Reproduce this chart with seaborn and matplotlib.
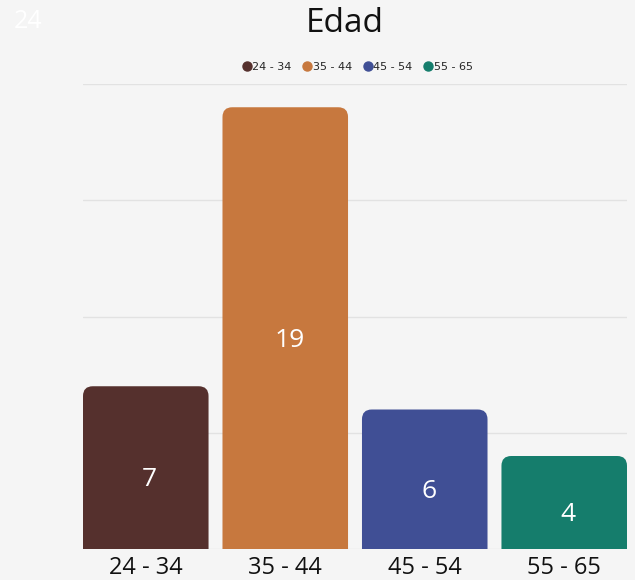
import matplotlib
matplotlib.use("Agg")
import matplotlib.pyplot as plt
from matplotlib.patches import FancyBboxPatch
from matplotlib.lines import Line2D
import seaborn as sns
import pandas as pd

# Datos del grafico
categorias = ["24 - 34", "35 - 44", "45 - 54", "55 - 65"]
valores = [7, 19, 6, 4]
colores = ["#55302d", "#c7783e", "#404f95", "#157d6c"]
titulo = "Edad"
esquina = "24"

df = pd.DataFrame({"edad": categorias, "n": valores})

sns.set_style("white")
plt.rcParams["font.family"] = ["Open Sans", "DejaVu Sans"]

fig = plt.figure(figsize=(6.35, 5.8), dpi=100, facecolor="#f5f5f5")
ax = fig.add_axes([83 / 635, 1 - 549 / 580, 544 / 635, 465 / 580])
ax.set_facecolor("#f5f5f5")

sns.barplot(data=df, x="edad", y="n", hue="edad", palette=colores,
            width=0.9, legend=False, ax=ax)

ax.set_xlim(-0.45, 3.45)
ax.set_ylim(0, 20)
ax.set_yticks([0, 5, 10, 15, 20])
ax.yaxis.grid(True, color="#e2e2e2", linewidth=1)
ax.set_axisbelow(True)
ax.tick_params(axis="y", left=False, labelleft=False)
ax.tick_params(axis="x", bottom=False, labelsize=17, pad=1.5)
ax.set_xlabel("")
ax.set_ylabel("")
for s in ax.spines.values():
    s.set_visible(False)

# barras con esquinas superiores redondeadas (las inferiores quedan recortadas)
aspect = (1 / 23.25) / (1 / 139.5)
for p, col in zip(list(ax.patches), colores):
    x, y = p.get_x(), p.get_y()
    w, h = p.get_width(), p.get_height()
    p.set_visible(False)
    ax.add_patch(FancyBboxPatch((x, y - 1), w, h + 1,
                                boxstyle="round,pad=0,rounding_size=0.07",
                                mutation_aspect=aspect, facecolor=col,
                                edgecolor="none", zorder=3))
    ax.annotate(f"{int(h)}", (x + w / 2, h / 2), xytext=(4, -12),
                textcoords="offset pixels", ha="center", va="center",
                color="white", fontsize=19, zorder=4)

for lbl in ax.get_xticklabels():
    lbl.set_color("#111111")

fig.text(345 / 635, 1 - 23 / 580, titulo, ha="center", va="center",
         fontsize=24, color="#111111")
fig.text(28 / 635, 1 - 22 / 580, esquina, ha="center", va="center",
         fontsize=18, color="white")

handles = [Line2D([], [], marker="o", linestyle="", markersize=6.5,
                  markerfacecolor=c, markeredgecolor=c) for c in colores]
fig.legend(handles, categorias, loc="center", ncol=4,
           bbox_to_anchor=(357 / 635, 1 - 67 / 580), frameon=False,
           prop={"family": "DejaVu Sans", "size": 8},
           handletextpad=0.0, columnspacing=0.9, handlelength=1.0)

fig.savefig("out.png", dpi=100, facecolor=fig.get_facecolor())
